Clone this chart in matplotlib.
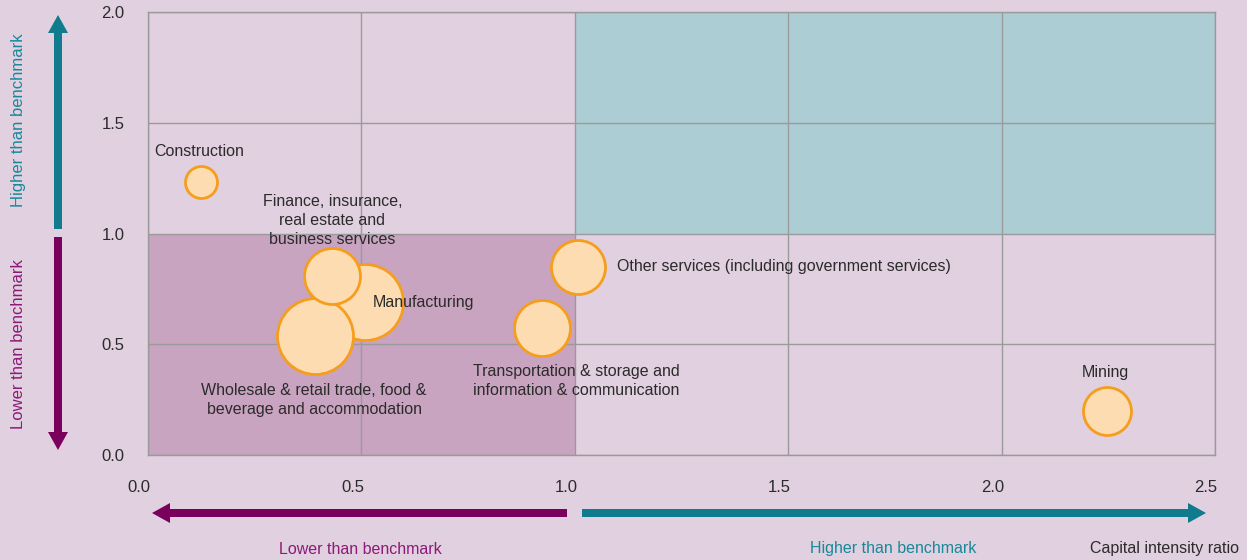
import numpy as np
import matplotlib.pyplot as plt
from matplotlib.patches import Rectangle, FancyArrow
from matplotlib.transforms import ScaledTranslation, IdentityTransform

# data
sectors = ['Construction', 'Manufacturing', 'Wholesale', 'Finance',
           'Transportation', 'Other services', 'Mining']
capital_ratio = [0.124, 0.508, 0.391, 0.431, 0.923, 1.007, 2.246]
labour_ratio = [1.232, 0.690, 0.537, 0.808, 0.573, 0.849, 0.199]
bubble_size = [16, 38, 38, 28, 28, 27, 24]   # bubble radius (px)

x_ticks = [0.0, 0.5, 1.0, 1.5, 2.0, 2.5]
y_ticks = [0.0, 0.5, 1.0, 1.5, 2.0]

# colours
bg = '#e1d0e0'
low_fill = '#c9a4c1'
high_fill = '#adcdd5'
purple = '#7b005e'
teal = '#0f7b8c'
bubble_face = '#fddcb2'
bubble_edge = '#f59e1e'
txt = '#2b2b2b'

plt.rcParams['font.family'] = ['Liberation Sans', 'DejaVu Sans']

W, H = 1247, 560
fig = plt.figure(figsize=(W / 100, H / 100), dpi=100, facecolor=bg)
ax = fig.add_axes([148 / W, (H - 455) / H, (1215 - 148) / W, (455 - 12) / H])
ax.set_facecolor(bg)
ax.set_xlim(0, 2.5)
ax.set_ylim(0, 2.0)

# shaded quadrants
ax.add_patch(Rectangle((0, 0), 1, 1, facecolor=low_fill, edgecolor='none', zorder=0))
ax.add_patch(Rectangle((1, 1), 1.5, 1, facecolor=high_fill, edgecolor='none', zorder=0))

ax.set_xticks(x_ticks)
ax.set_yticks(y_ticks)
ax.set_xticklabels([f'{v:.1f}' for v in x_ticks])
ax.set_yticklabels([f'{v:.1f}' for v in y_ticks])
ax.grid(True, color='#9a9a9a', linewidth=1.0, zorder=1)
ax.set_axisbelow(True)
for s in ax.spines.values():
    s.set_color('#9a9a9a')
    s.set_linewidth(1.0)
ax.tick_params(length=0, labelsize=12, labelcolor=txt)
ax.tick_params(axis='x', pad=18)
ax.tick_params(axis='y', pad=17)
for lbl in ax.get_xticklabels():
    lbl.set_transform(lbl.get_transform() + ScaledTranslation(-9 / 100, 0, fig.dpi_scale_trans))

# bubbles
for i in range(len(sectors)):
    r_pt = bubble_size[i] * 0.72
    ax.scatter(capital_ratio[i], labour_ratio[i], s=(2 * r_pt) ** 2,
               facecolor=bubble_face, edgecolor=bubble_edge, linewidth=2, zorder=3 + i * 0.01)

# labels
fs = 11.5
ls = 1.35
ax.text(0.12, 1.37, 'Construction', ha='center', va='center', fontsize=fs, color=txt, zorder=5)
ax.text(0.432, 1.06, 'Finance, insurance,\nreal estate and\nbusiness services', ha='center',
        va='center', fontsize=fs, color=txt, linespacing=ls, zorder=5)
ax.text(0.527, 0.69, 'Manufacturing', ha='left', va='center', fontsize=fs, color=txt, zorder=5)
ax.text(0.389, 0.25, 'Wholesale & retail trade, food &\nbeverage and accommodation', ha='center',
        va='center', fontsize=fs, color=txt, linespacing=ls, zorder=5)
ax.text(1.004, 0.335, 'Transportation & storage and\ninformation & communication', ha='center',
        va='center', fontsize=fs, color=txt, linespacing=ls, zorder=5)
ax.text(1.10, 0.849, 'Other services (including government services)', ha='left', va='center',
        fontsize=fs, color=txt, zorder=5)
ax.text(2.244, 0.372, 'Mining', ha='center', va='center', fontsize=fs, color=txt, zorder=5)


# arrows in output pixel space (y measured from top)
def px_arrow(x0, y0, x1, y1, color):
    arr = FancyArrow(x0, H - y0, x1 - x0, y0 - y1, width=8, head_width=20, head_length=18,
                     length_includes_head=True, facecolor=color, edgecolor='none',
                     transform=IdentityTransform())
    fig.patches.append(arr)


px_arrow(58, 229, 58, 15, teal)
px_arrow(58, 237, 58, 450, purple)
px_arrow(567, 513, 152, 513, purple)
px_arrow(582, 513, 1206, 513, teal)

fig.text(19 / W, 1 - 120 / H, 'Higher than benchmark', rotation=90, ha='center', va='center',
         fontsize=12, color='#17899a')
fig.text(19 / W, 1 - 344 / H, 'Lower than benchmark', rotation=90, ha='center', va='center',
         fontsize=12, color='#8c1a78')
fig.text(360 / W, 1 - 549 / H, 'Lower than benchmark', ha='center', va='center',
         fontsize=11.5, color='#8c1a78')
fig.text(893 / W, 1 - 549 / H, 'Higher than benchmark', ha='center', va='center',
         fontsize=11.5, color='#17899a')
fig.text(1165 / W, 1 - 548 / H, 'Capital intensity ratio', ha='center', va='center',
         fontsize=11.5, color=txt)

fig.savefig('out.png', dpi=100, facecolor=bg)
